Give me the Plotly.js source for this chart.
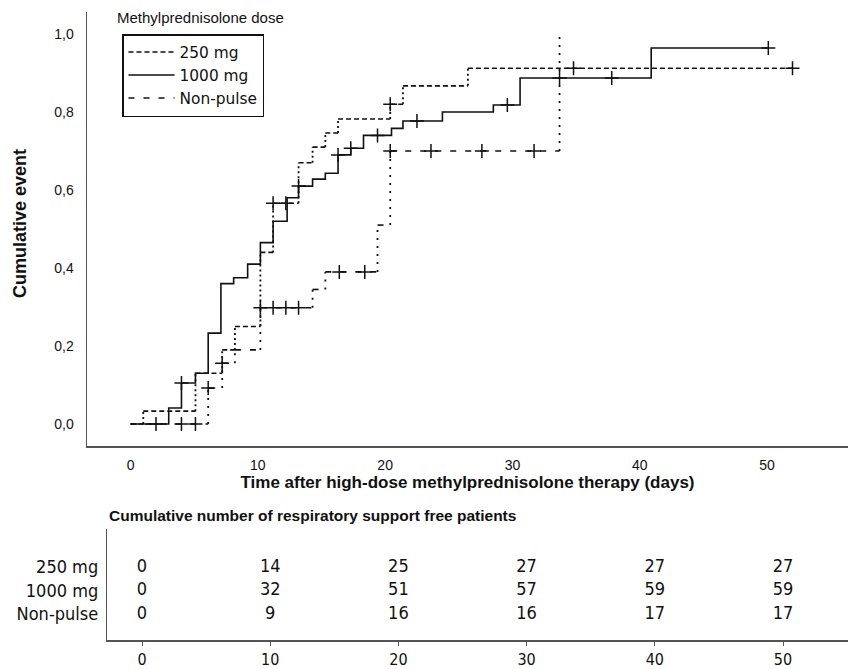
<!DOCTYPE html>
<html><head><meta charset="utf-8">
<script src="https://cdn.plot.ly/plotly-3.0.1.min.js"></script>
<style>html,body{margin:0;padding:0;background:#fff}</style>
</head><body><div id="chart" style="width:848px;height:669px"></div>
<script>
// ---- data ----
const groups = ['250 mg', '1000 mg', 'Non-pulse'];
const tableDays = [0, 10, 20, 30, 40, 50];
const free250 = [0, 14, 25, 27, 27, 27];
const free1000 = [0, 32, 51, 57, 59, 59];
const freeNP = [0, 9, 16, 16, 17, 17];

// Kaplan-Meier cumulative event curves (time in days, cumulative event after step)
const t1000 = [0, 3.0, 4.0, 5.1, 6.1, 7.1, 8.1, 9.2, 10.2, 11.2, 12.3, 13.2, 14.3, 15.3, 16.3, 17.3, 18.3, 20.5, 21.4, 24.5, 28.5, 30.6, 40.9];
const c1000 = [0, 0.041, 0.105, 0.13, 0.233, 0.36, 0.375, 0.41, 0.465, 0.52, 0.58, 0.61, 0.628, 0.643, 0.69, 0.707, 0.74, 0.758, 0.777, 0.80, 0.818, 0.887, 0.964];
const end1000 = 50.1;
const cens1000 = [4.0, 13.2, 16.3, 17.3, 19.4, 22.5, 29.6, 33.7, 37.8, 50.1];

const t250 = [0, 1.0, 5.1, 7.2, 8.2, 10.2, 11.2, 13.2, 14.3, 15.3, 16.3, 20.4, 21.4, 26.5];
const c250 = [0, 0.033, 0.13, 0.19, 0.25, 0.44, 0.566, 0.67, 0.71, 0.746, 0.782, 0.82, 0.867, 0.912];
const end250 = 52.0;
const cens250 = [11.2, 12.2, 20.4, 34.8, 52.0];

const tNP = [0, 6.1, 7.2, 8.2, 10.2, 14.3, 15.3, 19.4, 20.4, 33.7];
const cNP = [0, 0.092, 0.156, 0.19, 0.298, 0.345, 0.39, 0.51, 0.70, 1.0];
const endNP = 33.7;
const censNP = [2.0, 4.0, 5.1, 6.1, 7.2, 10.2, 11.2, 12.2, 13.2, 16.4, 18.4, 20.4, 23.6, 27.6, 31.7];

const yTicks = [0, 0.2, 0.4, 0.6, 0.8, 1.0];
const yTickText = ['0,0', '0,2', '0,4', '0,6', '0,8', '1,0'];
const xTicks = [0, 10, 20, 30, 40, 50];

// ---- helpers ----
function level(ts, cs, t) { let v = cs[0]; for (let i = 0; i < ts.length; i++) if (ts[i] <= t + 1e-9) v = cs[i]; return v; }
function horiz(ts, cs, end) {
  const x = [], y = [];
  for (let i = 0; i < ts.length; i++) {
    const e = i < ts.length - 1 ? ts[i + 1] : end;
    if (e > ts[i]) { x.push(ts[i], e, null); y.push(cs[i], cs[i], null); }
  }
  return { x, y };
}
function vert(ts, cs) {
  const x = [], y = [];
  for (let i = 1; i < ts.length; i++) { x.push(ts[i], ts[i], null); y.push(cs[i - 1], cs[i], null); }
  return { x, y };
}
const ink = '#111';
const censorMarker = { symbol: 'cross-thin-open', size: 10, color: ink, line: { width: 1.5, color: ink } };

const h250 = horiz(t250, c250, end250), v250 = vert(t250, c250);
const hNP = horiz(tNP, cNP, endNP), vNP = vert(tNP, cNP);

const traces = [
  { x: h250.x, y: h250.y, mode: 'lines', name: groups[0], line: { color: ink, width: 1.6, dash: '5px,3px' }, legendrank: 1 },
  { x: v250.x, y: v250.y, mode: 'lines', showlegend: false, line: { color: ink, width: 1.8, dash: '2px,3px' } },
  { x: t1000.concat([end1000]), y: c1000.concat([c1000[c1000.length - 1]]), mode: 'lines', name: groups[1], line: { color: ink, width: 1.6, shape: 'hv' }, legendrank: 2 },
  { x: hNP.x, y: hNP.y, mode: 'lines', name: groups[2], line: { color: ink, width: 1.6, dash: '6px,9px' }, legendrank: 3 },
  { x: vNP.x, y: vNP.y, mode: 'lines', showlegend: false, line: { color: ink, width: 1.8, dash: '2px,6px' } },
  { x: cens250, y: cens250.map(t => level(t250, c250, t)), mode: 'markers', showlegend: false, marker: censorMarker },
  { x: cens1000, y: cens1000.map(t => level(t1000, c1000, t)), mode: 'markers', showlegend: false, marker: censorMarker },
  { x: censNP, y: censNP.map(t => level(tNP, cNP, t)), mode: 'markers', showlegend: false, marker: censorMarker },
];

// table (cumulative respiratory-support-free counts)
const narrow = 'Liberation Sans Narrow, DejaVu Sans Condensed, sans-serif';
const tableRows = [free250, free1000, freeNP];
const rowY = [3, 2, 1];
tableRows.forEach((vals, r) => {
  traces.push({
    x: tableDays, y: tableDays.map(() => rowY[r]), text: vals.map(String),
    mode: 'text', xaxis: 'x2', yaxis: 'y2', showlegend: false, hoverinfo: 'skip',
    textfont: { family: narrow, size: 18, color: '#111' }
  });
});

const W = 848, H = 669;
const px = v => v / W, py = v => 1 - v / H;
const layout = {
  width: W, height: H,
  margin: { l: 0, r: 0, t: 0, b: 0 },
  paper_bgcolor: '#fff', plot_bgcolor: '#fff',
  font: { family: 'Liberation Sans, Arial, sans-serif', color: '#111' },
  showlegend: true,
  legend: {
    x: px(122), y: py(34), xanchor: 'left', yanchor: 'top',
    bordercolor: '#111', borderwidth: 1.5, bgcolor: '#fff',
    font: { size: 15.4, family: 'DejaVu Sans, sans-serif' },
    tracegroupgap: 0, itemwidth: 46
  },
  xaxis: {
    domain: [px(87), 1], range: [-3.42, 56.36], showgrid: false, zeroline: false,
    showline: true, linecolor: '#555', linewidth: 1.5, ticks: '', tickvals: xTicks,
    tickfont: { size: 14 }, anchor: 'y', ticklabelstandoff: 6,
    title: { text: '<b>Time after high-dose methylprednisolone therapy (days)</b>', font: { size: 17 }, standoff: 3 }
  },
  yaxis: {
    domain: [py(446), py(12)], range: [-0.0564, 1.0564], showgrid: false, zeroline: false,
    showline: true, linecolor: '#555', linewidth: 1.5, ticks: '', tickvals: yTicks, ticktext: yTickText,
    tickfont: { size: 14 }, anchor: 'x', ticklabelstandoff: 9
  },
  xaxis2: {
    domain: [px(107), 1], range: [-2.73, 55.07], showgrid: false, zeroline: false,
    showline: true, linecolor: '#555', linewidth: 1.5, ticks: 'outside', ticklen: 4, tickcolor: '#555',
    tickvals: xTicks, anchor: 'y2',
    tickfont: { family: narrow, size: 16 }
  },
  yaxis2: {
    domain: [py(640), py(529)], range: [-0.106, 4.62], showgrid: false, zeroline: false,
    showline: true, linecolor: '#555', linewidth: 1.2, ticks: '', tickvals: rowY, ticktext: groups,
    anchor: 'x2', ticklabelstandoff: 4,
    tickfont: { family: narrow, size: 18 }
  },
  annotations: [
    { text: '<b>Cumulative event</b>', xref: 'paper', yref: 'paper', x: px(20), y: py(224), xanchor: 'center', yanchor: 'middle', textangle: -90, showarrow: false, font: { size: 18 } },
    { text: 'Methylprednisolone dose', xref: 'paper', yref: 'paper', x: px(115), y: py(17), xanchor: 'left', yanchor: 'middle', showarrow: false, font: { size: 15 } },
    { text: '<b>Cumulative number of respiratory support free patients</b>', xref: 'paper', yref: 'paper', x: px(107), y: py(515), xanchor: 'left', yanchor: 'middle', showarrow: false, font: { size: 15.5 } }
  ]
};
Plotly.newPlot('chart', traces, layout, { displayModeBar: false, staticPlot: true });
</script></body></html>
